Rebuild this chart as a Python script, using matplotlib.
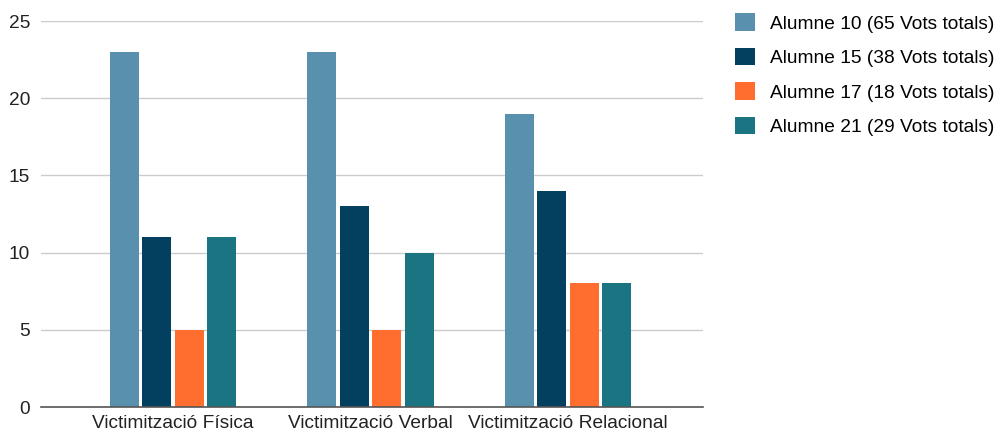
import matplotlib
matplotlib.use("Agg")
import matplotlib.pyplot as plt
import numpy as np

categories = ["Victimització Física", "Victimització Verbal", "Victimització Relacional"]
series_names = [
    "Alumne 10 (65 Vots totals)",
    "Alumne 15 (38 Vots totals)",
    "Alumne 17 (18 Vots totals)",
    "Alumne 21 (29 Vots totals)",
]
alumne_10 = [23, 23, 19]
alumne_15 = [11, 13, 14]
alumne_17 = [5, 5, 8]
alumne_21 = [11, 10, 8]
colors = ["#5890ad", "#03405f", "#ff6d2f", "#1b7482"]

plt.rcParams["font.family"] = ["Liberation Sans", "DejaVu Sans"]

fig = plt.figure(figsize=(9.99, 4.34), dpi=100)
ax = fig.add_axes([41 / 999, 27 / 434, 662 / 999, 386 / 434])

x = np.arange(len(categories))
width = 0.147
step = 0.165
for i, (vals, name, c) in enumerate(zip([alumne_10, alumne_15, alumne_17, alumne_21], series_names, colors)):
    ax.bar(x + (i - 1.5) * step, vals, width, color=c, label=name, zorder=3)

ax.set_xlim(-0.668, 2.684)
ax.set_ylim(0, 25)
ax.set_yticks([0, 5, 10, 15, 20, 25])
ax.set_xticks(x)
ax.set_xticklabels(categories)
ax.tick_params(axis="both", length=0, labelsize=13.8, colors="#222222")
ax.tick_params(axis="y", pad=8)
ax.tick_params(axis="x", pad=6)
ax.grid(axis="y", color="#cccccc", linewidth=1, zorder=0)
for s in ["top", "right", "left"]:
    ax.spines[s].set_visible(False)
ax.spines["bottom"].set_color("#555555")
ax.spines["bottom"].set_linewidth(1.2)
ax.spines["bottom"].set_zorder(4)

ax.legend(loc="upper left", bbox_to_anchor=(722 / 999, 1.0), bbox_transform=fig.transFigure,
          frameon=False, fontsize=13.8, handlelength=1.0, handleheight=1.0,
          labelspacing=0.8, handletextpad=0.8, borderaxespad=0.3)

fig.savefig("out.png", dpi=100)
